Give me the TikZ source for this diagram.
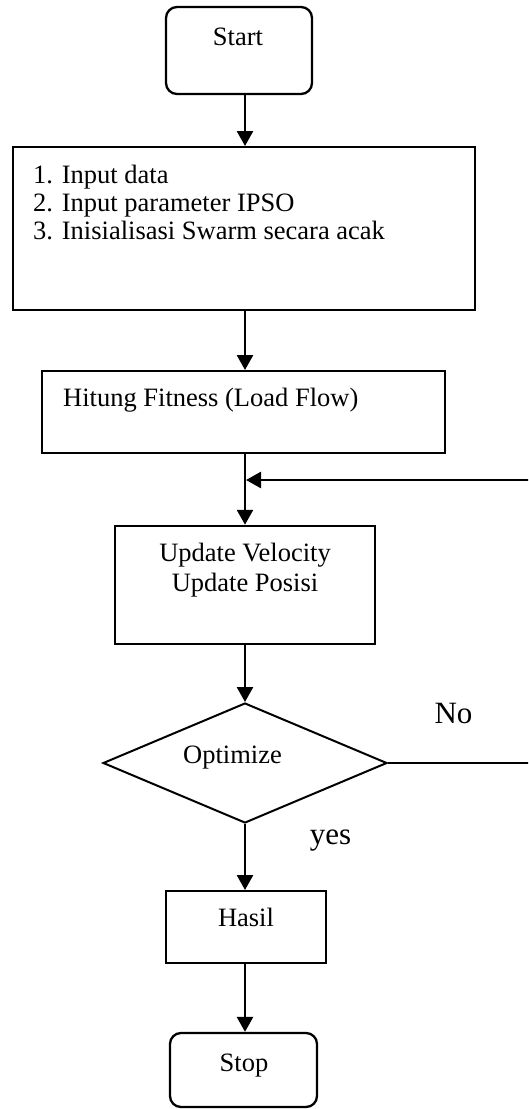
\documentclass[tikz,border=0pt]{standalone}
\usepackage{fontspec}
\setmainfont{Liberation Serif}
\usetikzlibrary{arrows.meta,shapes.geometric}
\tikzset{
  boxrect/.style={draw, line width=2pt, inner sep=0pt, rectangle},
  boxround/.style={draw, line width=2.3pt, inner sep=0pt, rectangle, rounded corners=11pt},
  decision/.style={draw, line width=2pt, inner sep=0pt, diamond},
  txt/.style={inner sep=0pt, anchor=base, font=\fontsize{26.5}{28}\selectfont},
  txtl/.style={inner sep=0pt, anchor=base west, font=\fontsize{26.5}{28}\selectfont},
  biglbl/.style={inner sep=0pt, anchor=base, font=\fontsize{31}{33}\selectfont},
  conn/.style={line width=2.7pt},
  arr/.style={line width=2.7pt, -{Triangle[length=15pt,width=16pt]}},
}
\begin{document}
\begin{tikzpicture}[x=1pt,y=-1pt]
\useasboundingbox (0,0) rectangle (528,1109);
\fill[white] (0,0) rectangle (528,1109);
\clip (0,0) rectangle (528,1109);
\coordinate (ax) at (245,0);

% nodes
\node[boxround, minimum width=146pt, minimum height=87pt] (start) at (239,50.5) {};
\node[txt] (starttxt) at (238,45) {Start};

\node[boxrect, minimum width=462pt, minimum height=163pt] (input) at (244,228.5) {};
\node[txtl] (in1) at (33,183) {1. Input data};
\node[txtl] (in2) at (33,211) {2. Input parameter IPSO};
\node[txtl] (in3) at (33,239) {3. Inisialisasi Swarm secara acak};

\node[boxrect, minimum width=403pt, minimum height=82pt] (fit) at (243.5,412) {};
\node[txtl] (fittxt) at (63,406) {Hitung Fitness (Load Flow)};

\coordinate (merge) at (245,480);

\node[boxrect, minimum width=260pt, minimum height=118.5pt] (upd) at (245,585) {};
\node[txt] (upd1) at (245,561) {Update Velocity};
\node[txt] (upd2) at (245,591) {Update Posisi};

\node[decision, minimum width=284pt, minimum height=120pt] (dia) at (245,763) {};
\node[txt] (diatxt) at (232.5,763) {Optimize};

\node[biglbl] (nolbl) at (453.5,723) {No};
\node[biglbl] (yeslbl) at (330.5,844) {yes};

\node[boxrect, minimum width=160pt, minimum height=72pt] (hasil) at (246,927) {};
\node[txt] (hasiltxt) at (246,926) {Hasil};

\node[boxround, minimum width=147pt, minimum height=74pt] (stop) at (243.5,1070) {};
\node[txt] (stoptxt) at (244,1071) {Stop};

% connectors
\draw[arr] (start.south -| ax) -- (input.north -| ax);
\draw[arr] (input.south -| ax) -- (fit.north -| ax);
\draw[conn] (fit.south -| ax) -- (merge);
\draw[arr] (merge) -- (upd.north -| ax);
\draw[arr] (upd.south -| ax) -- (dia.north);
\draw[arr] (dia.south) -- (hasil.north -| dia.south);
\draw[arr] (hasil.south -| dia.south) -- (stop.north -| dia.south);
\draw[arr] (dia.east) -- (560,763) -- (560,480) -- ([xshift=1pt]merge);
\end{tikzpicture}
\end{document}
